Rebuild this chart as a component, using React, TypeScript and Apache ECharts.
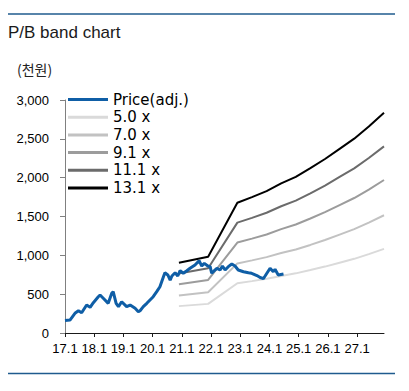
import React, { useEffect, useRef } from "react";
import * as echarts from "echarts";

// ---- data (x values are decimal years, e.g. 20.9 = late 2020) ----
const X_TICKS = [17, 18, 19, 20, 21, 22, 23, 24, 25, 26, 27];
const X_TICK_LABELS = ["17.1", "18.1", "19.1", "20.1", "21.1", "22.1", "23.1", "24.1", "25.1", "26.1", "27.1"];

const PRICE_DATES = [
  17.0, 17.17, 17.34, 17.46, 17.57, 17.74, 17.86, 17.97, 18.14, 18.2, 18.31, 18.48, 18.6, 18.65, 18.75,
  18.83, 18.94, 19.11, 19.23, 19.4, 19.51, 19.57, 19.68, 19.8, 19.91, 20.02, 20.14, 20.25, 20.37, 20.42,
  20.52, 20.6, 20.66, 20.77, 20.86, 20.94, 21.05, 21.17, 21.28, 21.45, 21.59, 21.68, 21.77, 21.89, 21.97,
  22.02, 22.11, 22.2, 22.31, 22.39, 22.48, 22.59, 22.71, 22.82, 22.93, 23.11, 23.28, 23.39, 23.57, 23.68,
  23.79, 23.85, 24.02, 24.13, 24.19, 24.3, 24.48,
];
const PRICE_VALUES = [
  160, 167, 254, 287, 261, 360, 331, 390, 467, 489, 447, 382, 511, 532, 382,
  339, 403, 339, 360, 318, 274, 287, 339, 382, 425, 467, 532, 596, 725, 776,
  747, 682, 734, 776, 734, 802, 769, 802, 833, 876, 931, 863, 897, 863, 854,
  769, 802, 833, 811, 863, 811, 854, 888, 863, 811, 789, 776, 769, 740, 715,
  700, 734, 833, 789, 820, 747, 760,
];

const BAND_DATES = [20.9, 21.9, 22.9, 23.4, 23.9, 24.4, 24.9, 25.4, 25.9, 26.4, 26.9, 27.4, 27.92];
const BAND_5_0 = [346, 375, 640, 668, 698, 735, 768, 810, 855, 905, 955, 1015, 1083];
const BAND_7_0 = [484, 525, 896, 935, 977, 1029, 1075, 1134, 1197, 1267, 1337, 1421, 1516];
const BAND_9_1 = [629, 683, 1165, 1215, 1269, 1338, 1397, 1474, 1556, 1647, 1738, 1847, 1970];
const BAND_11_1 = [767, 833, 1421, 1482, 1548, 1632, 1704, 1798, 1898, 2009, 2120, 2253, 2403];
const BAND_13_1 = [905, 982, 1677, 1749, 1827, 1926, 2011, 2122, 2240, 2371, 2502, 2659, 2836];

const SERIES_NAMES = ["Price(adj.)", "5.0 x", "7.0 x", "9.1 x", "11.1 x", "13.1 x"];
const COLORS = ["#0f5ea6", "#dadada", "#c2c2c2", "#9c9c9c", "#6b6b6b", "#000000"];

const pair = (xs: number[], ys: number[]) => xs.map((x, i) => [x, ys[i]]);

export default function App() {
  const ref = useRef<HTMLDivElement>(null);

  useEffect(() => {
    if (!ref.current) return;
    const chart = echarts.init(ref.current, null, { renderer: "svg" });
    const bands = [BAND_5_0, BAND_7_0, BAND_9_1, BAND_11_1, BAND_13_1];

    const option: any = {
      animation: false,
      backgroundColor: "#ffffff",
      title: {
        text: "P/B band chart",
        left: 8,
        top: 24,
        padding: 0,
        textStyle: {
          fontFamily: "Liberation Sans, Arial, sans-serif",
          fontSize: 17,
          fontWeight: "normal",
          color: "#1a1a1a",
        },
      },
      legend: {
        orient: "vertical",
        left: 68,
        top: 92,
        padding: 0,
        itemGap: 2.7,
        itemWidth: 40,
        itemHeight: 3,
        icon: "rect",
        data: SERIES_NAMES,
        textStyle: {
          fontFamily: "DejaVu Sans, Verdana, sans-serif",
          fontSize: 15,
          lineHeight: 15,
          color: "#000000",
        },
      },
      grid: { left: 65, right: 409 - 384, top: 100, bottom: 391 - 333, containLabel: false },
      xAxis: {
        type: "value",
        min: 17,
        max: 27.92,
        interval: 1,
        axisLine: { lineStyle: { color: "#1a1a1a", width: 1 } },
        axisTick: { show: true, length: 4, customValues: X_TICKS, lineStyle: { color: "#1a1a1a" } },
        axisLabel: {
          customValues: X_TICKS,
          margin: 9,
          fontFamily: "Liberation Sans, Arial, sans-serif",
          fontSize: 13,
          color: "#000000",
          formatter: (v: number) => {
            const i = X_TICKS.indexOf(Math.round(v));
            return i >= 0 && Math.abs(v - Math.round(v)) < 0.01 ? X_TICK_LABELS[i] : "";
          },
        },
        splitLine: { show: false },
      },
      yAxis: {
        type: "value",
        min: 0,
        max: 3000,
        interval: 500,
        axisLine: { show: true, lineStyle: { color: "#808080", width: 1 } },
        axisTick: { show: true, length: 5, lineStyle: { color: "#808080" } },
        axisLabel: {
          margin: 16,
          fontFamily: "Liberation Sans, Arial, sans-serif",
          fontSize: 13,
          color: "#000000",
          formatter: (v: number) => v.toLocaleString("en-US"),
        },
        splitLine: { show: false },
      },
      graphic: [
        {
          type: "line",
          shape: { x1: 8, y1: 14, x2: 395, y2: 14 },
          style: { stroke: "#1f5b8e", lineWidth: 1.5 },
        },
        {
          type: "line",
          shape: { x1: 8, y1: 373.5, x2: 395, y2: 373.5 },
          style: { stroke: "#1f5b8e", lineWidth: 1.5 },
        },
        {
          type: "text",
          left: 17,
          top: 62,
          style: {
            text: "(천원)",
            fontFamily: "Noto Sans CJK KR, sans-serif",
            fontSize: 14,
            fill: "#222222",
          },
        },
      ],
      series: [
        ...bands.map((b, i) => ({
          name: SERIES_NAMES[i + 1],
          type: "line",
          data: pair(BAND_DATES, b),
          showSymbol: false,
          symbol: "none",
          color: COLORS[i + 1],
          lineStyle: { color: COLORS[i + 1], width: 2 },
          z: 2,
        })),
        {
          name: SERIES_NAMES[0],
          type: "line",
          data: pair(PRICE_DATES, PRICE_VALUES),
          showSymbol: false,
          symbol: "none",
          color: COLORS[0],
          lineStyle: { color: COLORS[0], width: 3 },
          z: 3,
        },
      ],
    };
    chart.setOption(option);
    return () => chart.dispose();
  }, []);

  return (
    <div
      ref={ref}
      style={{ position: "absolute", left: 0, top: 0, width: 409, height: 391, background: "#fff" }}
    />
  );
}
